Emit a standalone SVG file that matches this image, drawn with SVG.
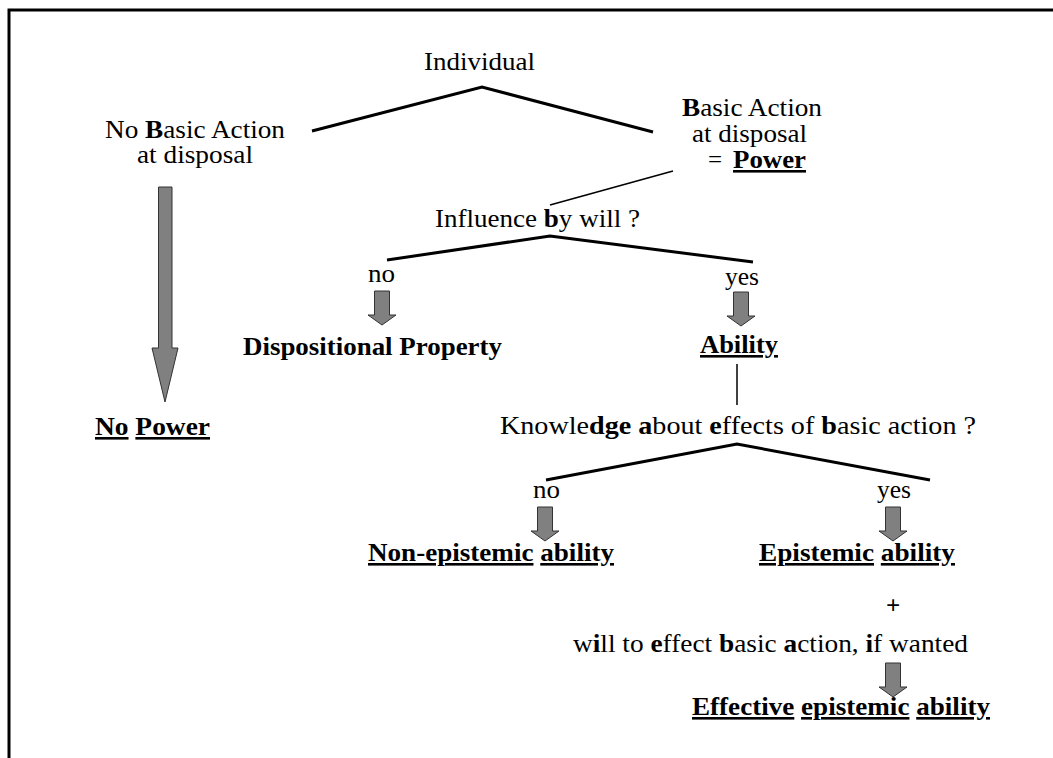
<svg xmlns="http://www.w3.org/2000/svg" width="1053" height="758" viewBox="0 0 1053 758">
  <style>
    text { font-family: "Liberation Serif", "Times New Roman", serif; font-size: 25px; fill: #000; }
    .b { font-weight: bold; }
    .lbl { font-weight: bold; font-size: 26px; }
    .u { text-decoration: underline; }
    .branch { stroke: #000; stroke-width: 3; fill: none; }
    .thin { stroke: #000; stroke-width: 1.5; fill: none; }
    .arrow { fill: #808080; stroke: #333; stroke-width: 1; }
  </style>
  <defs>
    <path id="downArrow" class="arrow" d="M-7.5,0 H7.5 V24 H14 L0,34 L-14,24 H-7.5 Z"/>
  </defs>
  <rect width="1053" height="758" fill="#fff"/>
  <!-- frame -->
  <path d="M9,758 V10 H1053" stroke="#000" stroke-width="3" fill="none"/>

  <!-- connectors -->
  <g id="connectors">
    <polyline class="branch" points="312,131 482,87 653,132"/>
    <line class="thin" x1="673" y1="171" x2="550" y2="205"/>
    <polyline class="branch" points="387,260 550,236 753,262"/>
    <line class="thin" x1="737" y1="364" x2="737" y2="405"/>
    <polyline class="branch" points="546,480 737,444 930,480"/>
    <path class="arrow" d="M158.5,187 H172 V348 H178 L165,402 L152,348 H158.5 Z"/>
    <use href="#downArrow" transform="translate(382,291)"/>
    <use href="#downArrow" transform="translate(741,292)"/>
    <use href="#downArrow" transform="translate(545,507)"/>
    <use href="#downArrow" transform="translate(893,507)"/>
    <use href="#downArrow" transform="translate(893,663)"/>
  </g>

  <g id="individual">
    <text x="424" y="70" textLength="111" lengthAdjust="spacingAndGlyphs">Individual</text>
  </g>
  <g id="no-basic-action">
    <text x="105" y="138" textLength="180" lengthAdjust="spacingAndGlyphs">No <tspan class="b">B</tspan>asic Action</text>
    <text x="137" y="163" textLength="116" lengthAdjust="spacingAndGlyphs">at disposal</text>
  </g>
  <g id="basic-action">
    <text x="682" y="116" textLength="140" lengthAdjust="spacingAndGlyphs"><tspan class="b">B</tspan>asic Action</text>
    <text x="692" y="142" textLength="115" lengthAdjust="spacingAndGlyphs">at disposal</text>
    <text x="708" y="168">=</text>
    <text x="733" y="168" class="lbl u" textLength="73" lengthAdjust="spacingAndGlyphs">Power</text>
  </g>
  <g id="no-power">
    <text x="95" y="435" class="lbl" textLength="115" lengthAdjust="spacingAndGlyphs"><tspan class="u">No</tspan> <tspan class="u">Power</tspan></text>
  </g>
  <g id="influence">
    <text x="435" y="227" textLength="205" lengthAdjust="spacingAndGlyphs">Influence <tspan class="b">b</tspan>y will ?</text>
  </g>
  <g id="dispositional">
    <text x="368" y="282" textLength="27" lengthAdjust="spacingAndGlyphs">no</text>
    <text x="243" y="355" class="lbl" textLength="259" lengthAdjust="spacingAndGlyphs">Dispositional Property</text>
  </g>
  <g id="ability">
    <text x="725" y="285" textLength="34" lengthAdjust="spacingAndGlyphs">yes</text>
    <text x="700" y="353" class="lbl u" textLength="78" lengthAdjust="spacingAndGlyphs">Ability</text>
  </g>
  <g id="knowledge">
    <text x="500" y="434" textLength="476" lengthAdjust="spacingAndGlyphs">Knowle<tspan class="b">dge</tspan> <tspan class="b">a</tspan>bout <tspan class="b">e</tspan>ffects of <tspan class="b">b</tspan>asic action ?</text>
  </g>
  <g id="non-epistemic">
    <text x="533" y="498" textLength="27" lengthAdjust="spacingAndGlyphs">no</text>
    <text x="368" y="561" class="lbl" textLength="246" lengthAdjust="spacingAndGlyphs"><tspan class="u">Non-epistemic</tspan> <tspan class="u">ability</tspan></text>
  </g>
  <g id="epistemic">
    <text x="877" y="498" textLength="34" lengthAdjust="spacingAndGlyphs">yes</text>
    <text x="759" y="561" class="lbl" textLength="196" lengthAdjust="spacingAndGlyphs"><tspan class="u">Epistemic</tspan> <tspan class="u">ability</tspan></text>
  </g>
  <g id="will">
    <text x="886" y="614" class="b">+</text>
    <text x="573" y="652" textLength="395" lengthAdjust="spacingAndGlyphs">w<tspan class="b">i</tspan>ll to <tspan class="b">e</tspan>ffect <tspan class="b">b</tspan>asic <tspan class="b">a</tspan>ction, <tspan class="b">i</tspan>f wanted</text>
  </g>
  <g id="effective">
    <text x="692" y="715" class="lbl" textLength="298" lengthAdjust="spacingAndGlyphs"><tspan class="u">Effective</tspan> <tspan class="u">epistemic</tspan> <tspan class="u">ability</tspan></text>
  </g>
</svg>
